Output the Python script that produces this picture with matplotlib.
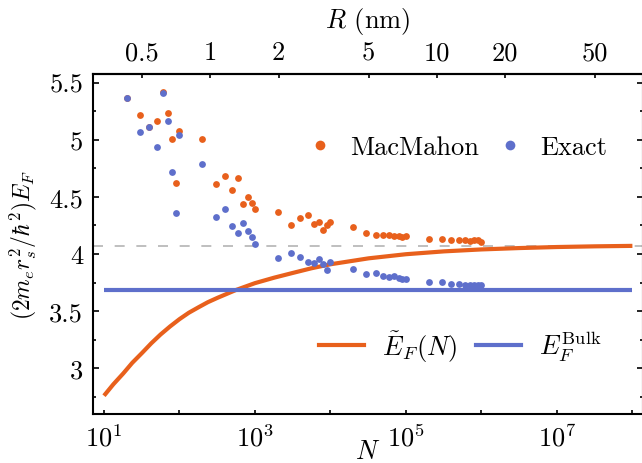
import matplotlib
matplotlib.use('Agg')
import matplotlib.pyplot as plt
from matplotlib.lines import Line2D
from matplotlib.ticker import FixedLocator, FuncFormatter, MultipleLocator, NullLocator
import numpy as np

plt.rcParams['font.family'] = 'serif'
plt.rcParams['font.serif'] = ['cmr10']
plt.rcParams['mathtext.fontset'] = 'cm'
plt.rcParams['axes.formatter.use_mathtext'] = True
plt.rcParams['font.size'] = 19

orange = '#E8601C'
blue = '#5E6FCB'

# cluster sizes N
n_points = [20, 30, 40, 50, 60, 70, 80, 90, 100,
            200, 300, 400, 500, 600, 700, 800, 900, 1000,
            2000, 3000, 4000, 5000, 6000, 7000, 8000, 9000, 10000,
            20000, 30000, 40000, 50000, 60000, 70000, 80000, 90000, 100000,
            200000, 300000, 400000, 500000, 600000, 700000, 800000, 900000, 1000000]

macmahon = [5.365, 5.216, 5.111, 5.161, 5.42, 5.236, 5.003, 4.624, 5.076,
            5.006, 4.612, 4.68, 4.56, 4.668, 4.435, 4.50, 4.45, 4.394,
            4.37, 4.254, 4.315, 4.344, 4.262, 4.283, 4.21, 4.256, 4.277,
            4.239, 4.18, 4.169, 4.169, 4.163, 4.16, 4.157, 4.149, 4.157,
            4.134, 4.134, 4.122, 4.122, 4.12, 4.117, 4.122, 4.12, 4.105]

exact = [5.365, 5.065, 5.111, 4.939, 5.406, 5.161, 4.72, 4.361, 5.044,
         4.787, 4.327, 4.39, 4.248, 4.184, 4.274, 4.20, 4.146, 4.085,
         3.968, 4.009, 3.977, 3.927, 3.919, 3.956, 3.91, 3.857, 3.927,
         3.871, 3.822, 3.831, 3.808, 3.796, 3.808, 3.787, 3.781, 3.781,
         3.758, 3.752, 3.738, 3.738, 3.731, 3.731, 3.729, 3.729, 3.729]

# smooth estimate E_F(N)
curve_n = [10, 13.3, 18, 23.7, 32, 42.2, 56, 75, 100, 133, 180, 237, 320, 560,
           1000, 1800, 3200, 5600, 10000, 32000, 100000, 320000, 1000000,
           3200000, 10000000, 32000000, 100000000]
curve_e = [2.760, 2.860, 2.955, 3.048, 3.135, 3.218, 3.295, 3.366, 3.430, 3.486,
           3.535, 3.578, 3.617, 3.685, 3.745, 3.793, 3.835, 3.875, 3.910, 3.962,
           3.998, 4.023, 4.040, 4.052, 4.061, 4.067, 4.071]

bulk_n = [10, 100000000]
bulk_value = 3.683
plateau = 4.073

r_ticks = [0.5, 1, 2, 5, 10, 20, 50]
n_ticks = [1e1, 1e2, 1e3, 1e4, 1e5, 1e6, 1e7, 1e8]
r_s = 0.1574  # nm

fig = plt.figure(figsize=(6.42, 4.64), dpi=100)
ax = fig.add_axes([0.1445, 0.1056, 0.857, 0.7328])

ax.axhline(plateau, color='#b4b4b4', lw=1.2, ls=(0, (6, 7)), zorder=1)
ax.plot(curve_n, curve_e, color=orange, lw=3, zorder=2, solid_capstyle='butt')
ax.plot(bulk_n, [bulk_value, bulk_value], color=blue, lw=3, zorder=2, solid_capstyle='butt')
ax.scatter(n_points, macmahon, s=24, color=orange, lw=0, zorder=3)
ax.scatter(n_points, exact, s=24, color=blue, lw=0, zorder=4)

ax.set_xscale('log')
ax.set_xlim(7.1, 1.38e8)
ax.set_ylim(2.6, 5.575)

ax.xaxis.set_major_locator(FixedLocator(n_ticks))
ax.xaxis.set_minor_locator(NullLocator())
ax.xaxis.set_major_formatter(FuncFormatter(
    lambda v, p: r'$10^{%d}$' % round(np.log10(v)) if round(np.log10(v)) % 2 == 1 else ''))
ax.yaxis.set_major_locator(MultipleLocator(0.5))
ax.yaxis.set_minor_locator(MultipleLocator(0.25))
ax.yaxis.set_major_formatter(FuncFormatter(lambda v, p: '%g' % v))

ax.tick_params(which='both', direction='in', top=False, right=True, width=1.2, pad=7)
ax.tick_params(axis='y', which='major', length=4.5)
ax.tick_params(axis='y', which='minor', length=2.5)
ax.tick_params(axis='x', which='major', length=3)
for s in ax.spines.values():
    s.set_linewidth(1.5)

ax.set_xlabel(r'$N$', labelpad=-8)
ax.set_ylabel(r'$(2m_e r_s^2/\hbar^2)E_F$', fontsize=17, labelpad=7)

secax = ax.secondary_xaxis('top', functions=(lambda n: r_s * np.cbrt(n),
                                             lambda r: (r / r_s) ** 3))
secax.set_xticks(r_ticks)
secax.xaxis.set_minor_locator(NullLocator())
secax.xaxis.set_major_formatter(FuncFormatter(lambda v, p: '%g' % v))
secax.tick_params(direction='in', length=3, width=1.2, pad=7)
secax.spines['top'].set_linewidth(1.5)
secax.set_xlabel(r'$R$ (nm)', labelpad=10)

pts = [Line2D([], [], marker='o', ls='none', ms=7, color=orange, mec='none'),
       Line2D([], [], marker='o', ls='none', ms=7, color=blue, mec='none')]
leg1 = ax.legend(pts, ['MacMahon', 'Exact'], ncol=2, frameon=False, loc='center',
                 bbox_to_anchor=(0.662, 0.785), handlelength=1.0, handletextpad=0.65,
                 columnspacing=0.65, borderaxespad=0)
ax.add_artist(leg1)

lines = [Line2D([], [], color=orange, lw=3), Line2D([], [], color=blue, lw=3)]
ax.legend(lines, [r'$\tilde{E}_F(N)$', r'$E_F^{\mathrm{Bulk}}$'], ncol=2, frameon=False,
          loc='center', bbox_to_anchor=(0.668, 0.2), handlelength=1.7,
          handletextpad=0.7, columnspacing=0.7, borderaxespad=0)

fig.savefig('out.png', dpi=100)
